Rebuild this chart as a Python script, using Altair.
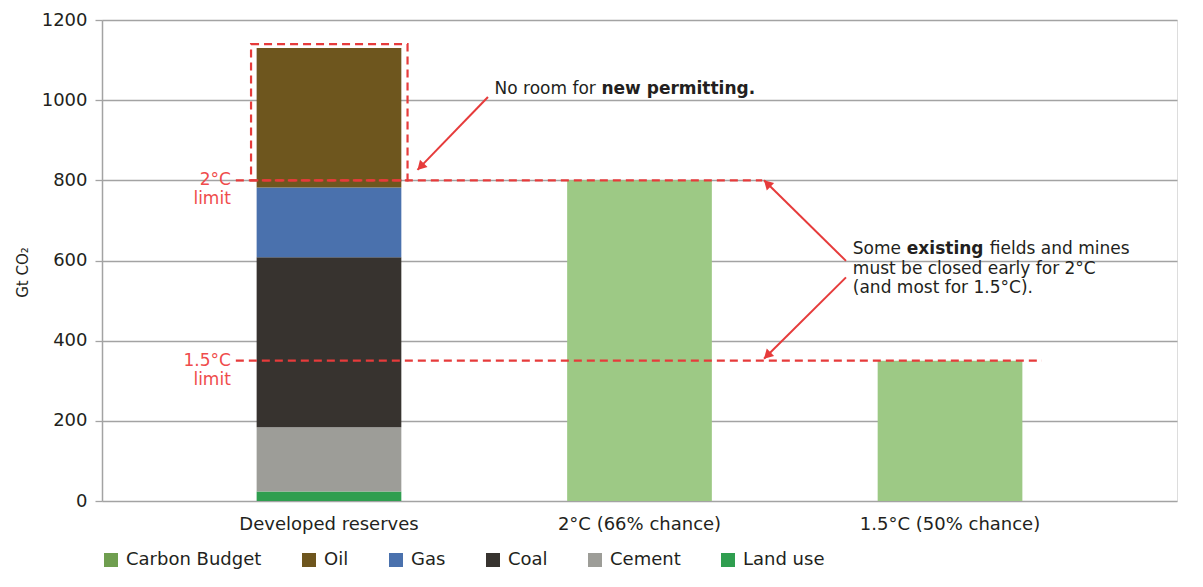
import math
import altair as alt
import pandas as pd

# ---------------- data ----------------
categories = ["Developed reserves", "2°C (66% chance)", "1.5°C (50% chance)"]

reserve_sources = ["Land use", "Cement", "Coal", "Gas", "Oil"]
reserve_values = [24, 160, 424, 174, 348]

budget_categories = ["2°C (66% chance)", "1.5°C (50% chance)"]
budget_values = [800, 350]

legend_items = ["Carbon Budget", "Oil", "Gas", "Coal", "Cement", "Land use"]
legend_colors = ["#6f9e4f", "#6e561e", "#4a71ad", "#37332f", "#9d9d98", "#2f9e4f"]
budget_bar_color = "#9dc985"

y_ticks = [0, 200, 400, 600, 800, 1000, 1200]

# limits (x in "category units": 0 = first bar centre, 1 = second, ...)
limit_labels = ["2°C\nlimit", "1.5°C\nlimit"]
limit_values = [800, 350]
limit_start = [-0.30, -0.30]
limit_end = [1.395, 2.296]

# dashed box around the part above the 2°C limit
box_u = [-0.251, 0.253]
box_v = [800, 1140]

# arrows: start -> tip
arrow_u0 = [0.512, 1.665, 1.665]
arrow_v0 = [1008, 599, 558]
arrow_u1 = [0.285, 1.401, 1.401]
arrow_v1 = [826, 800, 355]

# text anchors
note1_u, note1_v = 0.533, 1029
note2_u = 1.687
note2_v = [628, 580, 531]
note2_lines = ["must be closed early for 2°C", "(and most for 1.5°C)."]

# ---------------- styles ----------------
FONT = "DejaVu Sans"
RED = "#e63b3b"
RED_TEXT = "#ef4c4c"
TEXT = "#231f20"
GRID = "#a3a3a3"
W, H = 1075, 481
PX_PER_U = 310.5
PX_PER_V = H / 1200

x_band = alt.Scale(domain=categories, paddingInner=0.534, paddingOuter=0.498)
y_scale = alt.Scale(domain=[0, 1200], nice=False, zero=True)
u_scale = alt.Scale(domain=[-0.731, 2.731], zero=False, nice=False)

x_axis = alt.Axis(title=None, labelAngle=0, ticks=False, domain=False, grid=False,
                  labelFontSize=18, labelColor=TEXT, labelPadding=14, labelFont=FONT,
                  labelLimit=400)
y_axis = alt.Axis(values=y_ticks, format="d", title="Gt CO₂", titleFontSize=15,
                  titleFontWeight="normal", titleColor=TEXT, titleFont=FONT,
                  titleX=-72, titleY=252, labelFontSize=18, labelColor=TEXT,
                  labelFont=FONT, labelPadding=8, tickSize=7, tickColor=GRID,
                  tickWidth=1.3, domainColor=GRID, domainWidth=1.5,
                  grid=True, gridColor=GRID, gridWidth=1.3)

# ---------------- bars ----------------
reserves_df = pd.DataFrame({
    "category": [categories[0]] * len(reserve_sources),
    "source": reserve_sources,
    "value": reserve_values,
    "stack": list(range(len(reserve_sources))),
})
budget_df = pd.DataFrame({"category": budget_categories, "value": budget_values})

bars = alt.Chart(reserves_df).mark_bar().encode(
    x=alt.X("category:N", sort=categories, scale=x_band, axis=x_axis),
    y=alt.Y("value:Q", stack="zero", scale=y_scale, axis=y_axis),
    color=alt.Color("source:N",
                    scale=alt.Scale(domain=legend_items, range=legend_colors),
                    legend=alt.Legend(orient="none", legendX=0, legendY=531,
                                      direction="horizontal", columns=6, title=None,
                                      symbolType="square", symbolSize=196,
                                      symbolStrokeWidth=0, labelFontSize=18,
                                      labelFont=FONT, labelColor=TEXT, labelOffset=6,
                                      columnPadding=38, padding=0, labelLimit=400)),
    order=alt.Order("stack:Q", sort="ascending"),
)

budget = alt.Chart(budget_df).mark_bar(color=budget_bar_color).encode(
    x=alt.X("category:N", sort=categories, scale=x_band, axis=x_axis),
    y=alt.Y("value:Q", scale=y_scale),
)

main = alt.layer(bars, budget)

# ---------------- annotations ----------------
limits_df = pd.DataFrame({"u0": limit_start, "u1": limit_end,
                          "value": limit_values, "label": limit_labels})

limit_rules = alt.Chart(limits_df).mark_rule(color=RED, strokeWidth=2.2, strokeDash=[8, 5]).encode(
    x=alt.X("u0:Q", scale=u_scale, axis=None), x2="u1:Q",
    y=alt.Y("value:Q", scale=y_scale),
)
limit_text = alt.Chart(limits_df).mark_text(
    align="right", baseline="middle", dx=-5, lineBreak="\n", fontSize=17,
    lineHeight=19, color=RED_TEXT, font=FONT,
).encode(x=alt.X("u0:Q", scale=u_scale, axis=None), y=alt.Y("value:Q", scale=y_scale), text="label:N")

box_df = pd.DataFrame({"u0": [box_u[0]], "u1": [box_u[1]], "value": [box_v[0]], "value_end": [box_v[1]]})
box = alt.Chart(box_df).mark_rect(fillOpacity=0, stroke=RED, strokeWidth=2.2, strokeDash=[8, 5]).encode(
    x=alt.X("u0:Q", scale=u_scale, axis=None), x2="u1:Q",
    y=alt.Y("value:Q", scale=y_scale), y2="value_end:Q",
)

arrows_df = pd.DataFrame({"u0": arrow_u0, "value": arrow_v0, "u1": arrow_u1, "value_end": arrow_v1})
arrow_lines = alt.Chart(arrows_df).mark_rule(color=RED, strokeWidth=2).encode(
    x=alt.X("u0:Q", scale=u_scale, axis=None), x2="u1:Q",
    y=alt.Y("value:Q", scale=y_scale), y2="value_end:Q",
)

heads = []
for u0, v0, u1, v1 in zip(arrow_u0, arrow_v0, arrow_u1, arrow_v1):
    dxp = (u1 - u0) * PX_PER_U
    dyp = (v1 - v0) * PX_PER_V
    L = math.hypot(dxp, dyp)
    back = 4.5
    hu = u1 - back * dxp / L / PX_PER_U
    hv = v1 - back * dyp / L / PX_PER_V
    ang = math.degrees(math.atan2(dxp, dyp)) % 360
    hdf = pd.DataFrame({"u": [hu], "value": [hv]})
    heads.append(
        alt.Chart(hdf).mark_point(shape="triangle-up", filled=True, size=110, angle=ang,
                                  color=RED, opacity=1, strokeWidth=0).encode(
            x=alt.X("u:Q", scale=u_scale, axis=None), y=alt.Y("value:Q", scale=y_scale))
    )


def note(text, u, v, dx=0, bold=False):
    df = pd.DataFrame({"u": [u], "value": [v], "t": [text]})
    return alt.Chart(df).mark_text(
        align="left", baseline="middle", dx=dx, fontSize=17, font=FONT, color=TEXT,
        fontWeight="bold" if bold else "normal",
    ).encode(x=alt.X("u:Q", scale=u_scale, axis=None), y=alt.Y("value:Q", scale=y_scale), text="t:N")


notes = [
    note("No room for", note1_u, note1_v),
    note("new permitting.", note1_u, note1_v, dx=107, bold=True),
    note("Some", note2_u, note2_v[0]),
    note("existing", note2_u, note2_v[0], dx=54, bold=True),
    note("fields and mines", note2_u, note2_v[0], dx=137),
    note(note2_lines[0], note2_u, note2_v[1]),
    note(note2_lines[1], note2_u, note2_v[2]),
]

ann = alt.layer(limit_rules, limit_text, box, arrow_lines, *heads, *notes)

chart = alt.layer(main, ann).resolve_scale(x="independent").properties(
    width=W, height=H,
    autosize=alt.AutoSizeParams(type="none"),
    padding={"left": 94, "top": 12, "right": 18, "bottom": 78},
).configure_view(stroke=None).configure(font=FONT)

chart.save("out.html", embed_options={"renderer": "svg", "actions": False})
